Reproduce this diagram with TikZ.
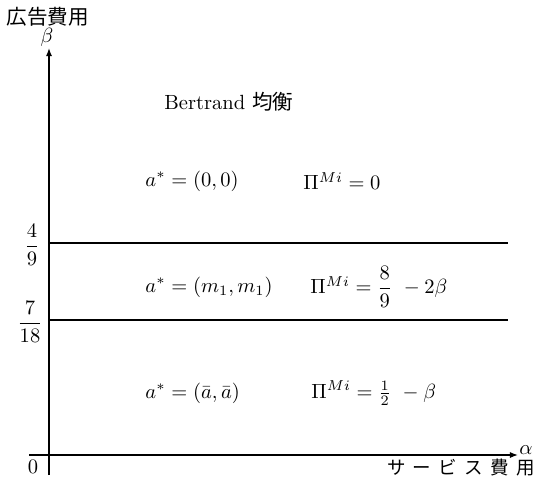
\documentclass[tikz,border=0pt]{standalone}
\usepackage{amsmath}
\usepackage{fontspec}
\usetikzlibrary{arrows.meta}
\newfontfamily\jpfont{Noto Sans CJK JP}
\newfontfamily\jpspaced[LetterSpace=40]{Noto Sans CJK JP}
\begin{document}
\begin{tikzpicture}[x=0.487pt,y=-0.487pt,
  axis/.style={line width=0.6pt,-{Latex[length=4pt,width=3pt]}},
  bound/.style={line width=0.6pt},
  lbl/.style={inner sep=0pt,anchor=west}]
\useasboundingbox (0,0) rectangle (537,477);
\coordinate (vb) at (49,475);
\coordinate (vt) at (49,48);
\coordinate (hl) at (29,455);
\coordinate (hr) at (518,455);
\draw[axis] (vb) -- (vt);
\draw[axis] (hl) -- (hr);
\node (beta) at (47,37) {$\beta$};
\node (ylab) at (48,17) {\jpfont 広告費用};
\node[inner sep=0pt] (alpha) at (526,450) {$\alpha$};
\node[inner sep=0pt] (xlab) at (461,468) {\fontsize{9pt}{10pt}\jpspaced サービス費用};
\node (zero) at (33,467) {$0$};
\coordinate (a1) at (49,243);
\coordinate (a2) at (508,243);
\coordinate (b1) at (49,320);
\coordinate (b2) at (508,320);
\draw[bound] (a1) -- (a2);
\draw[bound] (b1) -- (b2);
\node (f49) at (32,245) {$\dfrac{4}{9}$};
\node (f718) at (30,322) {$\dfrac{7}{18}$};
\node[lbl] (bert) at (164,102) {{\addfontfeatures{LetterSpace=6}Bertrand} {\jpfont 均衡}};
\node[lbl] (r1a) at (145,181) {$a^* = (0,0)$};
\node[lbl] (r1p) at (303,181) {$\Pi^{Mi} = 0$};
\node[lbl] (r2a) at (145,287) {$a^* = (m_1,m_1)$};
\node[lbl] (r2p) at (310,287) {$\Pi^{Mi} = \dfrac{8}{9}\ -2\beta$};
\node[lbl] (r3a) at (145,393) {$a^* = (\bar a,\bar a)$};
\node[lbl] (r3p) at (311,393) {$\Pi^{Mi} = \tfrac{1}{2}\ -\beta$};
\end{tikzpicture}
\end{document}
